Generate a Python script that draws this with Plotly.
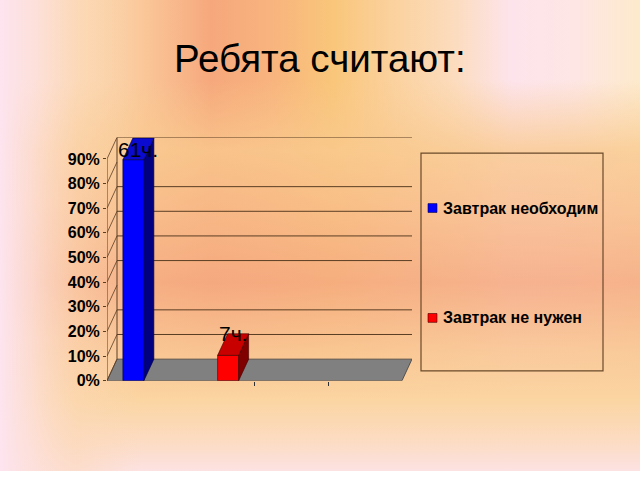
import base64
import plotly.graph_objects as go

# ---------------- data ----------------
title_text = "Ребята считают:"
series_names = ["Завтрак необходим", "Завтрак не нужен"]
category_positions = [0.5, 1.5, 2.5, 3.5]
counts_necessary = [61, None, None, None]
counts_not_needed = [None, 7, None, None]
count_suffix = "ч."
y_tick_values = [0.0, 0.1, 0.2, 0.3, 0.4, 0.5, 0.6, 0.7, 0.8, 0.9]
y_tick_labels = ["0%", "10%", "20%", "30%", "40%", "50%", "60%", "70%", "80%", "90%"]
visible_gridlines = [0.1, 0.2, 0.4, 0.5, 0.6, 0.7]
x_tick_values = [2, 3]

# ---------------- style ----------------
W, H = 640, 480
DX, DY = 0.1356, 0.0876          # 3-D depth offset in data units
BAR_W = 0.285
Y_MAX = 0.9
X_MAX = 4
LINE_COL = "#5a3e24"
FONT = "Arial, Liberation Sans, sans-serif"
styles = [
    dict(front="#0000ff", top="#0a0ad0", side="#000080", edge="#000040"),
    dict(front="#ff0000", top="#c80000", side="#800000", edge="#400000"),
]

total = sum(c for c in counts_necessary + counts_not_needed if c is not None)
series_counts = [counts_necessary, counts_not_needed]

# ---------------- background ----------------
svg = f'''<svg xmlns="http://www.w3.org/2000/svg" width="{W}" height="{H}" viewBox="0 0 {W} {H}" preserveAspectRatio="none">
<defs>
<linearGradient id="h" x1="0" y1="0" x2="1" y2="0">
<stop offset="0" stop-color="#fde4ef"/>
<stop offset="0.06" stop-color="#fde2d8"/>
<stop offset="0.14" stop-color="#fbd6ac"/>
<stop offset="0.22" stop-color="#fac89a"/>
<stop offset="0.33" stop-color="#f6a87c"/>
<stop offset="0.42" stop-color="#f8b37e"/>
<stop offset="0.52" stop-color="#f9c67a"/>
<stop offset="0.62" stop-color="#fbd2a0"/>
<stop offset="0.71" stop-color="#fcdcbe"/>
<stop offset="0.8" stop-color="#fde4ec"/>
<stop offset="0.9" stop-color="#fde6e4"/>
<stop offset="1" stop-color="#fdeacc"/>
</linearGradient>
<linearGradient id="v" x1="0" y1="0" x2="0" y2="1">
<stop offset="0" stop-color="#f9c98e" stop-opacity="0"/>
<stop offset="0.17" stop-color="#f9c98e" stop-opacity="0"/>
<stop offset="0.32" stop-color="#f9c98e" stop-opacity="0.8"/>
<stop offset="0.45" stop-color="#f8bb88" stop-opacity="0.8"/>
<stop offset="0.6" stop-color="#f5a97f" stop-opacity="0.85"/>
<stop offset="0.75" stop-color="#f9c794" stop-opacity="0.9"/>
<stop offset="0.85" stop-color="#fbd5a2" stop-opacity="1"/>
<stop offset="0.94" stop-color="#fcdcc4" stop-opacity="1"/>
<stop offset="1" stop-color="#fce2e2" stop-opacity="1"/>
</linearGradient>
<linearGradient id="l" x1="0" y1="0" x2="1" y2="0">
<stop offset="0" stop-color="#fde4ef" stop-opacity="1"/>
<stop offset="0.05" stop-color="#fde0dc" stop-opacity="0.8"/>
<stop offset="0.12" stop-color="#fcd8b8" stop-opacity="0.5"/>
<stop offset="0.22" stop-color="#fcd8b8" stop-opacity="0"/>
</linearGradient>
</defs>
<rect width="{W}" height="{H}" fill="url(#h)"/>
<rect width="{W}" height="{H}" fill="url(#v)"/>
<rect width="{W}" height="{H}" fill="url(#l)"/>
</svg>'''
bg_uri = "data:image/svg+xml;base64," + base64.b64encode(svg.encode()).decode()

fig = go.Figure()

# ---------------- bars (front faces + 3-D faces) ----------------
annotations = []
for si, (name, counts) in enumerate(zip(series_names, series_counts)):
    st = styles[si]
    shares = [None if c is None else c / total for c in counts]
    offset = -BAR_W if si == 0 else 0.0
    fig.add_trace(go.Bar(
        x=category_positions, y=shares, name=name, width=BAR_W, offset=offset,
        marker=dict(color=st["front"], line=dict(color=st["edge"], width=0.6)),
        showlegend=False, hoverinfo="skip",
    ))
    for c, v, n in zip(category_positions, shares, counts):
        if v is None:
            continue
        x0 = c + offset
        x1 = x0 + BAR_W
        fig.add_trace(go.Scatter(
            x=[x1, x1 + DX, x1 + DX, x1, x1], y=[0, DY, v + DY, v, 0],
            fill="toself", fillcolor=st["side"], mode="lines",
            line=dict(color=st["edge"], width=0.6), showlegend=False, hoverinfo="skip"))
        fig.add_trace(go.Scatter(
            x=[x0, x1, x1 + DX, x0 + DX, x0], y=[v, v, v + DY, v + DY, v],
            fill="toself", fillcolor=st["top"], mode="lines",
            line=dict(color=st["edge"], width=0.6), showlegend=False, hoverinfo="skip"))
        annotations.append(dict(
            x=x0 + BAR_W / 2 + DX / 2, y=min(v + DY, Y_MAX + DY - 0.05),
            xref="x", yref="y", text=f"{n}{count_suffix}", showarrow=False,
            font=dict(family=FONT, size=21, color="black"), xanchor="center", yanchor="middle"))

# ---------------- walls, floor, gridlines ----------------
shapes = []
shapes.append(dict(type="path", xref="x", yref="y", layer="below",
                   path=f"M 0 0 L {X_MAX} 0 L {X_MAX + DX} {DY} L {DX} {DY} Z",
                   fillcolor="#808080", line=dict(color="#404040", width=0.8)))
for g in visible_gridlines:
    shapes.append(dict(type="line", xref="x", yref="y", layer="below",
                       x0=DX, x1=X_MAX + DX, y0=g + DY, y1=g + DY,
                       line=dict(color=LINE_COL, width=1)))
shapes.append(dict(type="line", xref="x", yref="y", layer="below",
                   x0=DX, x1=X_MAX + DX, y0=Y_MAX + DY, y1=Y_MAX + DY,
                   line=dict(color=LINE_COL, width=1.2)))
shapes.append(dict(type="line", xref="x", yref="y", layer="below",
                   x0=DX, x1=DX, y0=DY, y1=Y_MAX + DY, line=dict(color=LINE_COL, width=1)))
shapes.append(dict(type="line", xref="x", yref="y", layer="below",
                   x0=0, x1=0, y0=0, y1=Y_MAX, line=dict(color=LINE_COL, width=1)))
for t in y_tick_values:
    shapes.append(dict(type="line", xref="x", yref="y", layer="below",
                       x0=0, x1=DX, y0=t, y1=t + DY, line=dict(color=LINE_COL, width=0.8)))

# ---------------- legend (manual) ----------------
leg_x0, leg_x1 = 421 / W, 603 / W
leg_y0, leg_y1 = 1 - 378 / H, 1 - 156 / H
shapes.append(dict(type="rect", xref="paper", yref="paper", x0=leg_x0, x1=leg_x1,
                   y0=leg_y0, y1=leg_y1, line=dict(color="#6a4a2a", width=1.2)))
legend_rows_px = [212, 324]
for si, name in enumerate(series_names):
    yc = legend_rows_px[si]
    shapes.append(dict(type="rect", xref="paper", yref="paper",
                       x0=428 / W, x1=437 / W, y0=1 - (yc + 4.5) / H, y1=1 - (yc - 4.5) / H,
                       fillcolor=styles[si]["front"], line=dict(color=styles[si]["edge"], width=0.6)))
    annotations.append(dict(x=441 / W, y=1 - yc / H, xref="paper", yref="paper",
                            text=f"<b>{name}</b>", showarrow=False, xanchor="left", yanchor="middle",
                            font=dict(family=FONT, size=16, color="black")))

# ---------------- title ----------------
annotations.append(dict(x=0.5, y=1 - 60 / H, xref="paper", yref="paper", text=title_text,
                        showarrow=False, xanchor="center", yanchor="middle",
                        font=dict(family=FONT, size=38.5, color="black")))

fig.update_layout(
    width=W, height=H, margin=dict(l=0, r=0, t=0, b=0),
    paper_bgcolor="rgba(0,0,0,0)", plot_bgcolor="rgba(0,0,0,0)",
    barmode="overlay", showlegend=False,
    images=[dict(source=bg_uri, xref="paper", yref="paper", x=0, y=1, sizex=1, sizey=1,
                 sizing="stretch", layer="below", xanchor="left", yanchor="top")],
    xaxis=dict(domain=[107 / W, 412 / W], range=[0, X_MAX + DX], showgrid=False, zeroline=False,
               showline=False, tickvals=x_tick_values, ticktext=["" for _ in x_tick_values],
               ticks="outside", ticklen=4, tickcolor="#303030", fixedrange=True),
    yaxis=dict(domain=[1 - 388 / H, 1 - 140 / H], range=[0, Y_MAX + DY], showgrid=False,
               zeroline=False, showline=False, tickvals=y_tick_values, ticktext=y_tick_labels,
               ticks="outside", ticklen=3, tickcolor=LINE_COL,
               tickfont=dict(family=FONT, size=16, color="black", weight="bold"), fixedrange=True),
    shapes=shapes, annotations=annotations,
)

post = "document.documentElement.style.margin='0';document.body.style.margin='0';document.body.style.overflow='hidden';"
fig.write_html("out.html", config={"displayModeBar": False}, post_script=post)
